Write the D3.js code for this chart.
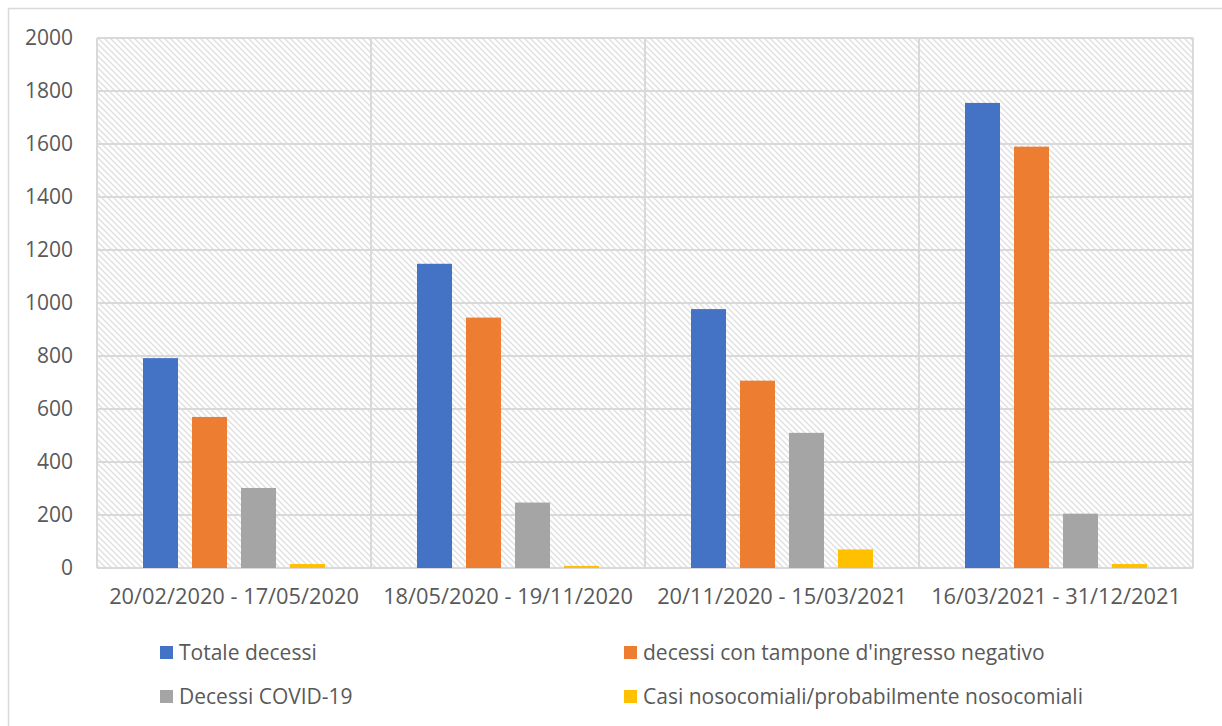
<!DOCTYPE html>
<html><head><meta charset="utf-8">
<script src="https://cdn.jsdelivr.net/npm/d3@7"></script>
<style>body{margin:0;background:#fff}svg{display:block}text{font-family:"Open Sans",sans-serif;fill:#595959}</style>
</head><body><svg id="c" width="1222" height="726"></svg>
<script>
const categories = ["20/02/2020 - 17/05/2020","18/05/2020 - 19/11/2020","20/11/2020 - 15/03/2021","16/03/2021 - 31/12/2021"];
const seriesNames = ["Totale decessi","decessi con tampone d'ingresso negativo","Decessi COVID-19","Casi nosocomiali/probabilmente nosocomiali"];
const totale = [792, 1148, 977, 1755];
const tamponeNeg = [570, 945, 707, 1590];
const covid = [302, 247, 510, 205];
const nosocomiali = [15, 8, 70, 15];
const yTicks = [0,200,400,600,800,1000,1200,1400,1600,1800,2000];
const colors = ["#4472C4","#ED7D31","#A5A5A5","#FFC000"];
const seriesValues = [totale, tamponeNeg, covid, nosocomiali];

const svg = d3.select("#c");
const L=97, R=1193, T=38, B=568;
// outer frame
svg.append("path").attr("d","M8.5,740V8.5H1240").attr("fill","none").attr("stroke","#d9d9d9").attr("stroke-width",1.5);

const defs = svg.append("defs");
const pat = defs.append("pattern").attr("id","hatch").attr("patternUnits","userSpaceOnUse").attr("width",6).attr("height",6);
pat.append("rect").attr("width",6).attr("height",6).attr("fill","#fff");
pat.append("path").attr("d","M-1,-1L7,7M-1,5L1,7M5,-1L7,1").attr("stroke","#e0e0e0").attr("stroke-width",1.4);

const x0 = d3.scaleBand().domain(categories).range([L,R]);
const x1 = d3.scaleBand().domain(d3.range(4)).range([46, 228]).paddingInner(14/49);
const y = d3.scaleLinear().domain([0,2000]).range([B,T]);

svg.append("rect").attr("x",L).attr("y",T).attr("width",R-L).attr("height",B-T).attr("fill","url(#hatch)");
// gridlines
svg.append("g").selectAll("line").data(yTicks).join("line")
  .attr("x1",L).attr("x2",R).attr("y1",d=>y(d)).attr("y2",d=>y(d)).attr("stroke","#d9d9d9").attr("stroke-width",2);
const vx = categories.map(c=>x0(c)).concat([R]);
svg.append("g").selectAll("line").data(vx).join("line")
  .attr("x1",d=>d).attr("x2",d=>d).attr("y1",T).attr("y2",B).attr("stroke","#d9d9d9").attr("stroke-width",2);

// bars
categories.forEach((c,ci)=>{
  seriesValues.forEach((vals,si)=>{
    svg.append("rect").attr("x",x0(c)+x1(si)).attr("width",x1.bandwidth())
      .attr("y",y(vals[ci])).attr("height",B-y(vals[ci])).attr("fill",colors[si]);
  });
});

// y axis
const ya = svg.append("g").attr("transform",`translate(${L},0)`).call(d3.axisLeft(y).tickValues(yTicks).tickSize(0).tickPadding(24).tickFormat(d3.format("d")));
ya.select(".domain").remove();
ya.selectAll("text").style("font-size","21px").attr("fill","#595959");

// x axis
const xa = svg.append("g").attr("transform",`translate(0,${B})`).call(d3.axisBottom(x0).tickSize(0).tickPadding(21));
xa.select(".domain").remove();
xa.selectAll("text").style("font-size","21.8px").attr("fill","#595959");

// legend
const legPos = [[160,653],[624,653],[160,697],[624,697]];
seriesNames.forEach((n,i)=>{
  const [lx,ly]=legPos[i];
  svg.append("rect").attr("x",lx).attr("y",ly-7).attr("width",13).attr("height",13).attr("fill",colors[i]);
  svg.append("text").attr("x",lx+19).attr("y",ly).attr("dy","0.35em").style("font-size","21px").text(n);
});
</script></body></html>
